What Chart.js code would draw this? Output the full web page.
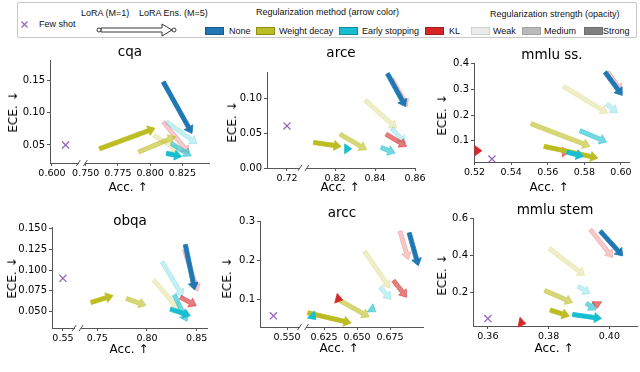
<!DOCTYPE html>
<html>
<head>
<meta charset="utf-8">
<script src="https://cdn.jsdelivr.net/npm/chart.js@4.4.1/dist/chart.umd.min.js"></script>
<style>
    body { margin: 0; width: 640px; height: 372px; overflow: hidden; position: relative; background: #fff; font-family: 'DejaVu Sans', sans-serif; }
    canvas { position: absolute; }
    .lbl { position: absolute; white-space: nowrap; transform: translate(-50%, -50%); color: #000; line-height: 1; }
    .title { font-size: 13.5px; }
    .axt { font-size: 12px; }
    .rot { transform: translate(-50%, -50%) rotate(-90deg); }
    #legendBox { position: absolute; left: 17px; top: 2px; width: 620px; height: 36px; border: 1px solid #c8c8c8; border-radius: 2px; box-sizing: border-box; }
    .lg { position: absolute; white-space: nowrap; transform: translateY(-50%); font-family: 'Liberation Sans', Arial, sans-serif; font-size: 9px; color: #111; line-height: 1; }
    .patch { position: absolute; width: 19px; height: 8px; box-sizing: border-box; transform: translateY(-50%); }
</style>
</head>
<body>
<div id="legendBox"></div>
<svg style="position:absolute;left:0;top:0" width="640" height="40">
    <line x1="21.5" y1="21.5" x2="27.5" y2="27.5" stroke="#9467bd" stroke-width="1.2"/>
    <line x1="27.5" y1="21.5" x2="21.5" y2="27.5" stroke="#9467bd" stroke-width="1.2"/>
    <polygon points="101,28 162,28 162,24 172,30 162,36 162,32 101,32" fill="#fff" stroke="#222" stroke-width="0.9"/>
    <circle cx="99" cy="30" r="2" fill="#fff" stroke="#222" stroke-width="0.9"/>
    <circle cx="174" cy="30" r="2" fill="#fff" stroke="#222" stroke-width="0.9"/>
</svg>
<div id="legendItems"></div>
<script>
// ---- data ----
const panelNames = ['cqa', 'arce', 'mmlu ss.', 'obqa', 'arcc', 'mmlu stem'];
const methodNames = ['None', 'Weight decay', 'Early stopping', 'KL'];
const strengthNames = ['Weak', 'Medium', 'Strong'];

const fewShotAcc = [0.6106, 0.72, 0.5295, 0.55, 0.5396, 0.36];
const fewShotEce = [0.050, 0.0605, 0.0286, 0.090, 0.058, 0.060];

// [method, strength, acc M=1, ECE M=1, acc M=5, ECE M=5]
const cqaArrows = [
    ['KL', 'Weak', 0.8102, 0.086, 0.8301, 0.037],
    ['Early stopping', 'Weak', 0.8126, 0.086, 0.8365, 0.052],
    ['Weight decay', 'Weak', 0.8030, 0.065, 0.8229, 0.040],
    ['Weight decay', 'Medium', 0.7910, 0.039, 0.8198, 0.063],
    ['Early stopping', 'Medium', 0.8166, 0.052, 0.8318, 0.033],
    ['None', 'Strong', 0.8102, 0.148, 0.8325, 0.068],
    ['Weight decay', 'Strong', 0.7607, 0.044, 0.8038, 0.076],
    ['Early stopping', 'Strong', 0.8126, 0.037, 0.8245, 0.032]
];
const arceArrows = [
    ['KL', 'Weak', 0.8483, 0.1286, 0.8563, 0.0881],
    ['Weight decay', 'Weak', 0.835, 0.0976, 0.8508, 0.0571],
    ['Early stopping', 'Weak', 0.8483, 0.0571, 0.8553, 0.0357],
    ['KL', 'Medium', 0.8455, 0.0486, 0.8558, 0.031],
    ['Weight decay', 'Medium', 0.8225, 0.0486, 0.8358, 0.0262],
    ['Early stopping', 'Medium', 0.843, 0.0295, 0.850, 0.0214],
    ['None', 'Strong', 0.8462, 0.1357, 0.8553, 0.0881],
    ['Weight decay', 'Strong', 0.8092, 0.0367, 0.823, 0.031],
    ['Early stopping', 'Strong', 0.8255, 0.0276, 0.8283, 0.0276]
];
const mmluSsArrows = [
    ['KL', 'Weak', 0.5927, 0.3675, 0.6004, 0.2922],
    ['Weight decay', 'Weak', 0.5685, 0.3117, 0.5927, 0.2078],
    ['Early stopping', 'Weak', 0.5922, 0.2429, 0.5982, 0.2078],
    ['Weight decay', 'Medium', 0.5509, 0.1662, 0.5831, 0.0779],
    ['Early stopping', 'Medium', 0.5776, 0.139, 0.5922, 0.0948],
    ['KL', 'Medium', 0.5698, 0.0558, 0.5718, 0.0558],
    ['None', 'Strong', 0.5913, 0.3675, 0.6007, 0.2766],
    ['Weight decay', 'Strong', 0.558, 0.0779, 0.5873, 0.0325],
    ['Early stopping', 'Strong', 0.5704, 0.0558, 0.5795, 0.039],
    ['KL', 'Strong', 0.5218, 0.061, 0.524, 0.061]
];
const obqaArrows = [
    ['KL', 'Weak', 0.8376, 0.1248, 0.851, 0.074],
    ['Early stopping', 'Weak', 0.8151, 0.110, 0.8362, 0.068],
    ['Weight decay', 'Weak', 0.8067, 0.088, 0.8319, 0.052],
    ['Early stopping', 'Medium', 0.8275, 0.070, 0.8403, 0.038],
    ['KL', 'Medium', 0.8336, 0.0672, 0.8497, 0.0568],
    ['Weight decay', 'Medium', 0.7792, 0.0656, 0.799, 0.0572],
    ['None', 'Strong', 0.8386, 0.1308, 0.848, 0.076],
    ['Early stopping', 'Strong', 0.8235, 0.0528, 0.8436, 0.0448],
    ['Weight decay', 'Strong', 0.7436, 0.0608, 0.7658, 0.0692]
];
const arccArrows = [
    ['KL', 'Weak', 0.6826, 0.2742, 0.6889, 0.2013],
    ['Weight decay', 'Weak', 0.6556, 0.2227, 0.6750, 0.1283],
    ['Early stopping', 'Weak', 0.6675, 0.1309, 0.6758, 0.100],
    ['KL', 'Medium', 0.6776, 0.1481, 0.6877, 0.1052],
    ['Weight decay', 'Medium', 0.6364, 0.0983, 0.6592, 0.0554],
    ['Early stopping', 'Medium', 0.6606, 0.0768, 0.6642, 0.0682],
    ['None', 'Strong', 0.6895, 0.270, 0.6965, 0.1858],
    ['KL', 'Strong', 0.6375, 0.100, 0.6392, 0.0985],
    ['Weight decay', 'Strong', 0.6127, 0.0657, 0.6455, 0.0399],
    ['Early stopping', 'Strong', 0.6173, 0.0536, 0.6188, 0.0485]
];
const mmluStemArrows = [
    ['KL', 'Weak', 0.3937, 0.5382, 0.4011, 0.3873],
    ['Weight decay', 'Weak', 0.3802, 0.4364, 0.3919, 0.2909],
    ['Early stopping', 'Weak', 0.3897, 0.2327, 0.3937, 0.1927],
    ['Weight decay', 'Medium', 0.3787, 0.2109, 0.3879, 0.1455],
    ['Early stopping', 'Medium', 0.3924, 0.1418, 0.3956, 0.1055],
    ['KL', 'Medium', 0.3959, 0.130, 0.3959, 0.113],
    ['None', 'Strong', 0.397, 0.5291, 0.4044, 0.3964],
    ['Weight decay', 'Strong', 0.3805, 0.1055, 0.3868, 0.0727],
    ['Early stopping', 'Strong', 0.3879, 0.0818, 0.3974, 0.060],
    ['KL', 'Strong', 0.3714, 0.0364, 0.3725, 0.0327]
];
const panelArrows = [cqaArrows, arceArrows, mmluSsArrows, obqaArrows, arccArrows, mmluStemArrows];

// tick labels
const xTickLabels = [
    ['0.600', '0.750', '0.775', '0.800', '0.825'],
    ['0.72', '0.82', '0.84', '0.86'],
    ['0.52', '0.54', '0.56', '0.58', '0.60'],
    ['0.55', '0.75', '0.80', '0.85'],
    ['0.550', '0.625', '0.650', '0.675'],
    ['0.36', '0.38', '0.40']
];
const yTickLabels = [
    ['0.05', '0.10', '0.15'],
    ['0.00', '0.05', '0.10'],
    ['0.1', '0.2', '0.3', '0.4'],
    ['0.050', '0.075', '0.100', '0.125', '0.150'],
    ['0.1', '0.2', '0.3'],
    ['0.2', '0.4', '0.6']
];

// ---- layout & style ----
// plot: [left, top, right, bottom] in page px; x: display range; shift/cut: broken axis (values < cut moved by shift)
const panelLayout = [
    { plot: [50, 60, 209, 163], x: [0.7223, 0.8457], y: [0.022, 0.182], shift: 0.1238, cut: 0.70, brk: 0.747,
      title: [130, 52], xt: [128, 187], yt: [13, 112] },
    { plot: [267, 72, 415, 168], x: [0.7859, 0.8600], y: [0.0, 0.138], shift: 0.0759, cut: 0.78, brk: 0.8041,
      title: [341, 53], xt: [340, 187], yt: [232, 122] },
    { plot: [474, 63, 629, 162], x: [0.5197, 0.6044], y: [0.017, 0.403], shift: 0, cut: 0, brk: null,
      title: [552, 55], xt: [549, 187], yt: [442, 115] },
    { plot: [52, 227, 207, 328], x: [0.7044, 0.8604], y: [0.030, 0.152], shift: 0.1654, cut: 0.65, brk: 0.7302,
      title: [130, 221], xt: [129, 349], yt: [12, 278] },
    { plot: [260, 221, 423, 327], x: [0.5765, 0.7000], y: [0.0296, 0.300], shift: 0.047, cut: 0.58, brk: 0.6091,
      title: [342, 213], xt: [339, 348], yt: [227, 278] },
    { plot: [473, 218, 637, 326], x: [0.3551, 0.4091], y: [0.020, 0.600], shift: 0, cut: 0, brk: null,
      title: [555, 210], xt: [554, 348], yt: [442, 275] }
];

const methodRgb = {
    'None': '31,119,180',
    'Weight decay': '188,189,34',
    'Early stopping': '23,190,207',
    'KL': '214,39,40'
};
const strengthAlpha = { 'Weak': 0.25, 'Medium': 0.6, 'Strong': 1.0 };
const spineColor = '#555';

function drawArrow(ctx, x0, y0, x1, y1, color) {
    let dx = x1 - x0, dy = y1 - y0;
    let len = Math.hypot(dx, dy);
    if (len < 0.01) { dx = 1; dy = 0; len = 1; }
    const ux = dx / len, uy = dy / len, nx = -uy, ny = ux;
    const hl = 7, hw = 5, sw = 2.1;
    const bx = x1 - ux * hl, by = y1 - uy * hl;
    ctx.beginPath();
    if (len > hl) {
        ctx.moveTo(x0 + nx * sw, y0 + ny * sw);
        ctx.lineTo(bx + nx * sw, by + ny * sw);
        ctx.lineTo(bx + nx * hw, by + ny * hw);
        ctx.lineTo(x1, y1);
        ctx.lineTo(bx - nx * hw, by - ny * hw);
        ctx.lineTo(bx - nx * sw, by - ny * sw);
        ctx.lineTo(x0 - nx * sw, y0 - ny * sw);
    } else {
        ctx.moveTo(bx + nx * hw, by + ny * hw);
        ctx.lineTo(x1, y1);
        ctx.lineTo(bx - nx * hw, by - ny * hw);
    }
    ctx.closePath();
    ctx.fillStyle = color;
    ctx.fill();
    ctx.strokeStyle = color;
    ctx.lineWidth = 0.8;
    ctx.stroke();
}

// Arrows and broken-axis marks
const arrowPlugin = {
    id: 'arrows',
    afterDatasetsDraw(chart) {
        const ctx = chart.ctx, xs = chart.scales.x, ys = chart.scales.y;
        ctx.save();
        chart.data.datasets.forEach(ds => {
            if (!ds.arrow) return;
            const a = ds.data[0], b = ds.data[1];
            drawArrow(ctx, xs.getPixelForValue(a.x), ys.getPixelForValue(a.y),
                xs.getPixelForValue(b.x), ys.getPixelForValue(b.y), ds.arrowColor);
        });
        ctx.restore();
    },
    afterDraw(chart) {
        const brk = chart.options.plugins.arrows.brk;
        if (brk === null) return;
        const ctx = chart.ctx;
        const px = chart.scales.x.getPixelForValue(brk);
        const py = chart.chartArea.bottom;
        ctx.save();
        ctx.clearRect(px - 3, py - 2, 6, 4);
        ctx.strokeStyle = spineColor;
        ctx.lineWidth = 1;
        [-3.5, 3.5].forEach(o => {
            ctx.beginPath();
            ctx.moveTo(px + o - 2, py + 3);
            ctx.lineTo(px + o + 2, py - 3);
            ctx.stroke();
        });
        ctx.restore();
    }
};

function addLabel(text, pos, cls) {
    const d = document.createElement('div');
    d.className = 'lbl ' + cls;
    d.textContent = text;
    d.style.left = pos[0] + 'px';
    d.style.top = pos[1] + 'px';
    document.body.appendChild(d);
}

function createPanel(i) {
    const lay = panelLayout[i];
    const [L, T, R, B] = lay.plot;
    const cx = L - 46, cy = T - 8;
    const cw = R + 14 - cx, ch = B + 22 - cy;
    const disp = v => (v < lay.cut ? v + lay.shift : v);

    const canvas = document.createElement('canvas');
    canvas.width = cw;
    canvas.height = ch;
    canvas.style.left = cx + 'px';
    canvas.style.top = cy + 'px';
    document.body.appendChild(canvas);

    const datasets = [{
        data: [{ x: disp(fewShotAcc[i]), y: fewShotEce[i] }],
        pointStyle: 'crossRot',
        pointRadius: 5,
        pointHoverRadius: 5,
        borderColor: '#9467bd',
        backgroundColor: '#9467bd',
        borderWidth: 1.3
    }];
    panelArrows[i].forEach(r => {
        datasets.push({
            data: [{ x: disp(r[2]), y: r[3] }, { x: disp(r[4]), y: r[5] }],
            showLine: false,
            pointRadius: 0,
            pointHoverRadius: 0,
            arrow: true,
            arrowColor: 'rgba(' + methodRgb[r[0]] + ',' + strengthAlpha[r[1]] + ')'
        });
    });

    const xLabels = xTickLabels[i], yLabels = yTickLabels[i];

    new Chart(canvas, {
        type: 'scatter',
        data: { datasets: datasets },
        options: {
            responsive: false,
            animation: false,
            events: [],
            layout: { padding: { left: 0, top: T - cy, right: cx + cw - R, bottom: 0 } },
            plugins: {
                legend: { display: false },
                tooltip: { enabled: false },
                arrows: { brk: lay.brk }
            },
            scales: {
                x: {
                    type: 'linear',
                    min: lay.x[0],
                    max: lay.x[1],
                    afterBuildTicks: s => { s.ticks = xLabels.map(t => ({ value: disp(parseFloat(t)) })); },
                    afterFit: s => { s.height = cy + ch - B; s.paddingLeft = 0; s.paddingRight = 0; },
                    ticks: {
                        callback: (v, idx) => xLabels[idx],
                        autoSkip: false, maxRotation: 0, minRotation: 0,
                        font: { family: 'DejaVu Sans', size: 9.5 }, color: '#000', padding: 2
                    },
                    grid: { drawOnChartArea: false, drawTicks: true, tickLength: 3, color: spineColor },
                    border: { display: true, color: spineColor, width: 1 }
                },
                y: {
                    type: 'linear',
                    min: lay.y[0],
                    max: lay.y[1],
                    afterBuildTicks: s => { s.ticks = yLabels.map(t => ({ value: parseFloat(t) })); },
                    afterFit: s => { s.width = L - cx; s.paddingTop = 0; s.paddingBottom = 0; },
                    ticks: {
                        callback: (v, idx) => yLabels[idx],
                        autoSkip: false,
                        font: { family: 'DejaVu Sans', size: 10 }, color: '#000', padding: 2
                    },
                    grid: { drawOnChartArea: false, drawTicks: true, tickLength: 3, color: spineColor },
                    border: { display: true, color: spineColor, width: 1 }
                }
            }
        },
        plugins: [arrowPlugin]
    });

    addLabel(panelNames[i], lay.title, 'title');
    addLabel('Acc. \u2191', lay.xt, 'axt');
    addLabel('ECE. \u2193', lay.yt, 'axt rot');
}

for (let i = 0; i < panelNames.length; i++) createPanel(i);

// ---- legend ----
const legendItems = document.getElementById('legendItems');
function legendText(text, x, y) {
    const d = document.createElement('div');
    d.className = 'lg';
    d.textContent = text;
    d.style.left = x + 'px';
    d.style.top = y + 'px';
    legendItems.appendChild(d);
}
function legendPatch(x, y, fill, edge) {
    const d = document.createElement('div');
    d.className = 'patch';
    d.style.left = x + 'px';
    d.style.top = y + 'px';
    d.style.background = fill;
    d.style.border = '1px solid ' + edge;
    legendItems.appendChild(d);
}

legendText('Few shot', 39, 24);
legendText('LoRA (M=1)', 81, 13);
legendText('LoRA Ens. (M=5)', 139, 13);
legendText('Regularization method (arrow color)', 256, 12);
legendText('Regularization strength (opacity)', 490, 14);

const methodPatchX = [205, 256, 339, 425];
const methodTextX = [229, 279, 362, 449];
methodNames.forEach((m, k) => {
    legendPatch(methodPatchX[k], 31, 'rgb(' + methodRgb[m] + ')', 'rgba(0,0,0,0.25)');
    legendText(m, methodTextX[k], 31);
});
const strengthFill = ['#ebebeb', '#bababa', '#808080'];
const strengthPatchX = [471, 522, 584];
const strengthTextX = [493, 544, 603];
strengthNames.forEach((s, k) => {
    legendPatch(strengthPatchX[k], 31, strengthFill[k], 'rgba(0,0,0,0.12)');
    legendText(s, strengthTextX[k], 31);
});
</script>
</body>
</html>
